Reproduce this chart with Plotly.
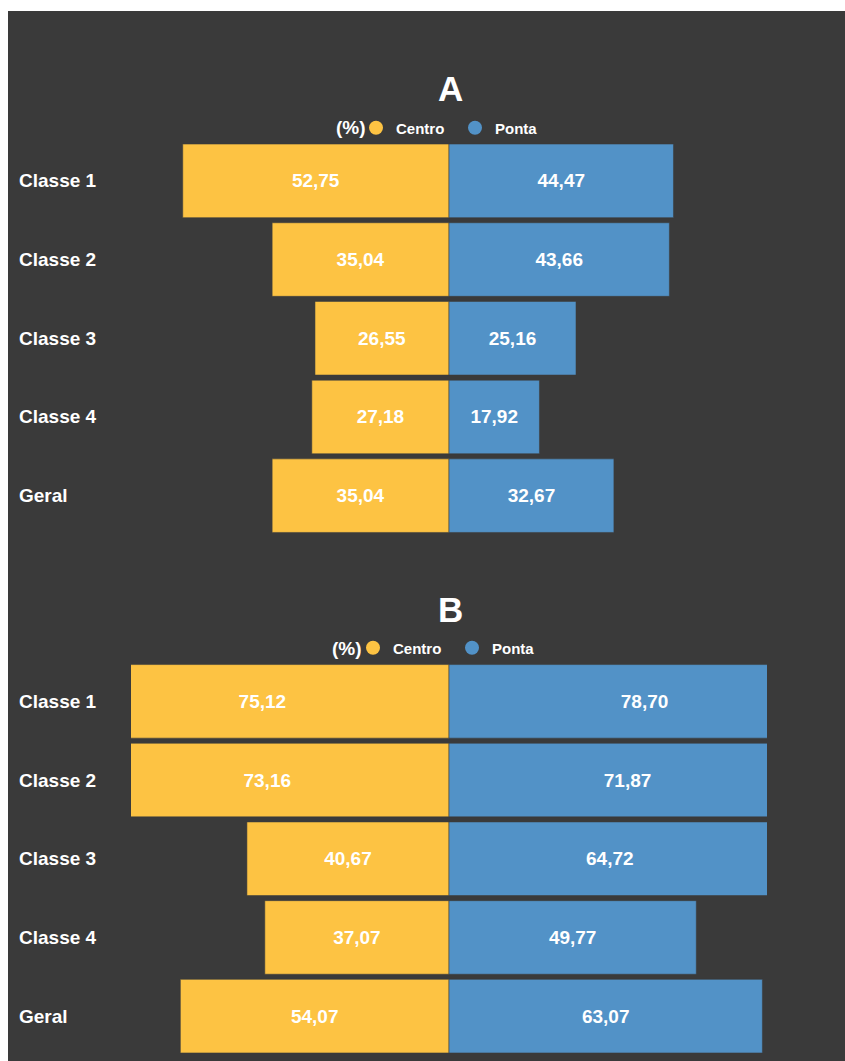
import plotly.graph_objects as go

# Data
categorias = ["Classe 1", "Classe 2", "Classe 3", "Classe 4", "Geral"]
centro_a = [52.75, 35.04, 26.55, 27.18, 35.04]
ponta_a = [44.47, 43.66, 25.16, 17.92, 32.67]
centro_b = [75.12, 73.16, 40.67, 37.07, 54.07]
ponta_b = [78.70, 71.87, 64.72, 49.77, 63.07]

COR_CENTRO = "#FDC343"
COR_PONTA = "#5292C7"
FUNDO = "#3A3A3A"
FONTE = "Liberation Sans, Arial, sans-serif"
W, H = 845, 1061


def fmt(v):
    return f"{v:.2f}".replace(".", ",")


fig = go.Figure()

# (title, centro, ponta, x axis, y axis, legend, x half-range, title y px, legend row y px, unit label x px)
paineis = [
    ("A", centro_a, ponta_a, "x", "y", "legend", 63, 89, 128, 368),
    ("B", centro_b, ponta_b, "x2", "y2", "legend2", 64, 609, 648, 364),
]

for nome, centro, ponta, xa, ya, leg, lim, ty, ly, lx in paineis:
    fig.add_trace(go.Bar(
        y=categorias, x=[-v for v in centro], orientation="h",
        text=[f"<b>{fmt(v)}</b>" for v in centro], textposition="inside",
        insidetextanchor="middle",
        textfont=dict(color="white", size=19, family=FONTE),
        marker=dict(color=COR_CENTRO, line=dict(color="rgba(60,60,60,0.55)", width=1)),
        xaxis=xa, yaxis=ya, showlegend=False, name="Centro",
    ))
    fig.add_trace(go.Bar(
        y=categorias, x=ponta, orientation="h",
        text=[f"<b>{fmt(v)}</b>" for v in ponta], textposition="inside",
        insidetextanchor="middle",
        textfont=dict(color="white", size=19, family=FONTE),
        marker=dict(color=COR_PONTA, line=dict(color="rgba(60,60,60,0.55)", width=1)),
        xaxis=xa, yaxis=ya, showlegend=False, name="Ponta",
    ))
    # legend entries with round markers
    for serie, cor in (("Centro", COR_CENTRO), ("Ponta", COR_PONTA)):
        fig.add_trace(go.Scatter(
            x=[None], y=[None], mode="markers", name=serie,
            marker=dict(symbol="circle", size=14, color=cor),
            xaxis=xa, yaxis=ya, legend=leg, showlegend=True,
        ))
    # category labels
    for c in categorias:
        fig.add_annotation(
            x=17 / W, xref="paper", xanchor="left",
            y=c, yref=ya, yanchor="middle",
            text=f"<b>{c}</b>", showarrow=False,
            font=dict(color="white", size=19, family=FONTE),
        )
    # panel title
    fig.add_annotation(x=450 / W, y=1 - ty / H, xref="paper", yref="paper",
                       text=f"<b>{nome}</b>", showarrow=False, yanchor="middle",
                       font=dict(color="white", size=35, family=FONTE))
    # unit label in front of the legend
    fig.add_annotation(x=lx / W, y=1 - ly / H, xref="paper", yref="paper",
                       text="<b>(%)</b>", showarrow=False,
                       xanchor="right", yanchor="middle",
                       font=dict(color="white", size=19, family=FONTE))

eixo_x = dict(showgrid=False, zeroline=False, showticklabels=False,
              showline=False, domain=[131 / W, 767 / W], fixedrange=True)
eixo_y = dict(showgrid=False, zeroline=False, showticklabels=False,
              showline=False, autorange="reversed", type="category")

leg_comum = dict(
    orientation="h", xanchor="left", yanchor="middle",
    bgcolor="rgba(0,0,0,0)", borderwidth=0,
    font=dict(color="white", size=15, family=FONTE, weight="bold"),
    itemsizing="trace", entrywidth=54,
)

fig.update_layout(
    width=W, height=H,
    margin=dict(l=0, r=0, t=0, b=0),
    paper_bgcolor="white", plot_bgcolor=FUNDO,
    barmode="relative", bargap=0.065,
    xaxis=dict(eixo_x, range=[-63, 63], anchor="y"),
    yaxis=dict(eixo_y, domain=[1 - 535 / H, 1 - 141.5 / H], anchor="x"),
    xaxis2=dict(eixo_x, range=[-64, 64], anchor="y2"),
    yaxis2=dict(eixo_y, domain=[1 - 1055.5 / H, 1 - 662 / H], anchor="x2"),
    legend=dict(leg_comum, x=356 / W, y=1 - 128 / H),
    legend2=dict(leg_comum, x=353 / W, y=1 - 648 / H),
    shapes=[dict(type="rect", xref="paper", yref="paper",
                 x0=8 / W, x1=1, y0=0, y1=1 - 11 / H,
                 fillcolor=FUNDO, line=dict(width=0), layer="below")],
    showlegend=True,
)

fig.write_html("out.html")
